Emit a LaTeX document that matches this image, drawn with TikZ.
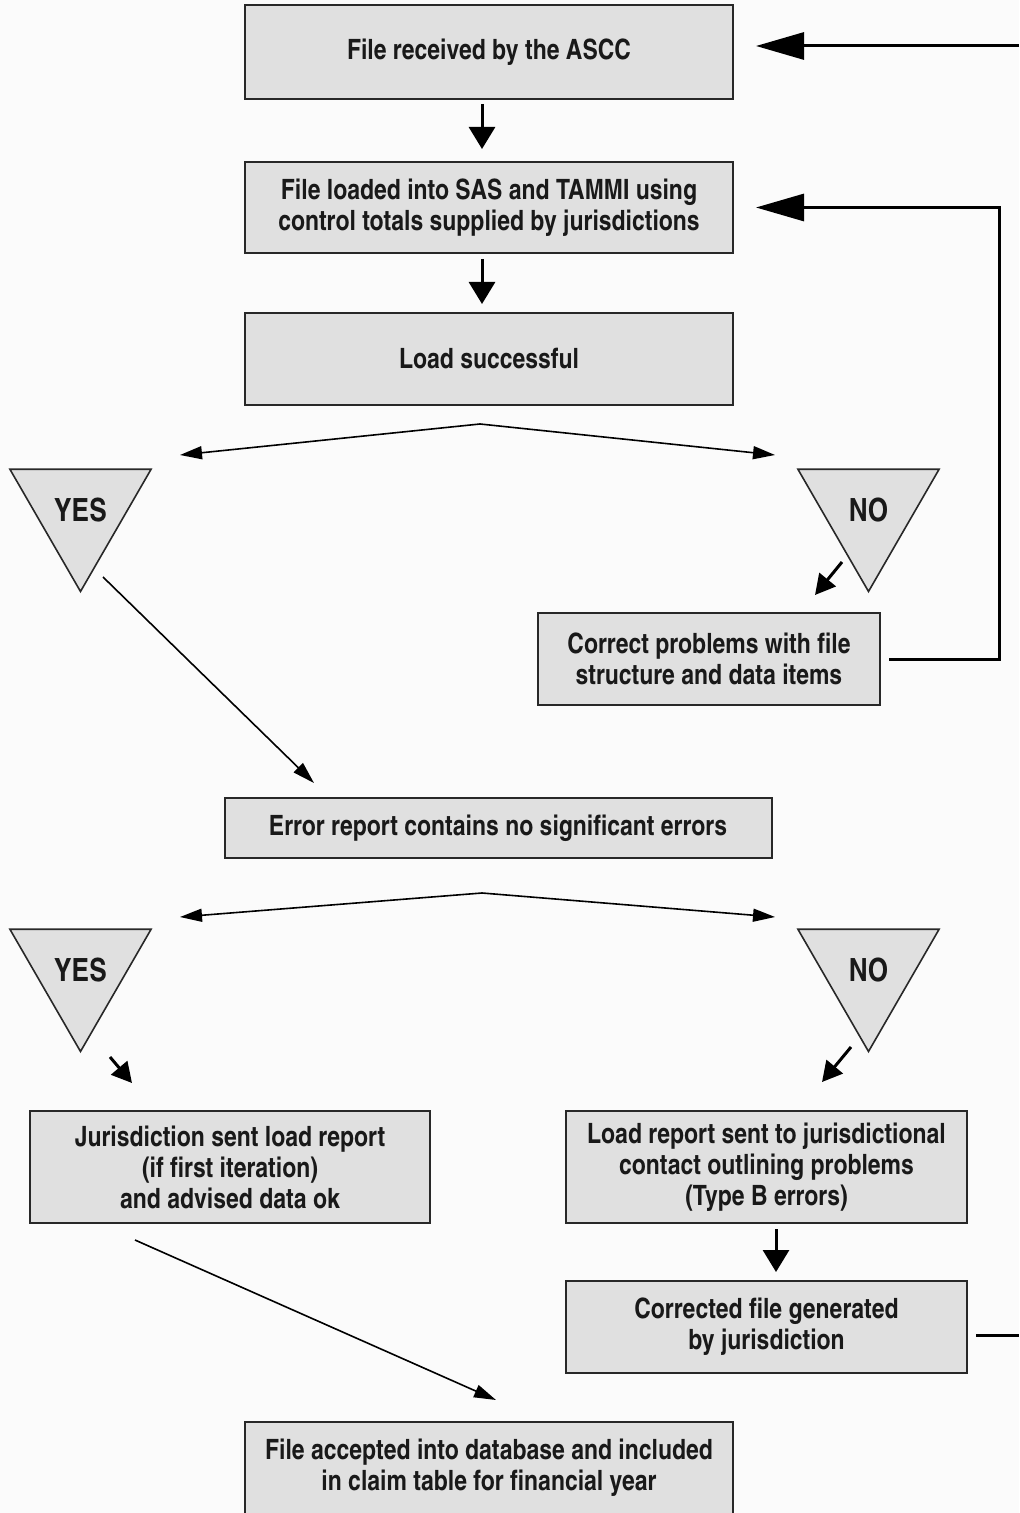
\documentclass[tikz,border=0pt]{standalone}
\usepackage{fontspec}
\setmainfont{Liberation Sans}
\newfontfamily\chartfont{texgyreheroscn-bold.otf}
\usetikzlibrary{arrows.meta, shapes.geometric}
\definecolor{boxgray}{RGB}{224,224,224}
\definecolor{edgec}{RGB}{40,40,40}
\definecolor{paper}{RGB}{251,251,251}

\begin{document}
\begin{tikzpicture}[x=0.5pt, y=-0.5pt,
	stepbox/.style={draw=edgec, line width=1pt, fill=boxgray, align=center, inner sep=0pt, text=black!90, font=\chartfont\fontsize{14}{15.5}\selectfont},
	answer/.style={draw=edgec, line width=0.8pt, fill=boxgray, regular polygon, regular polygon sides=3, shape border rotate=180, minimum size=81.5pt, inner sep=0pt, text=black!90, font=\chartfont\fontsize{16}{18}\selectfont},
	bigarrow/.style={line width=1.5pt, -{Triangle[length=11pt,width=13pt]}},
	longarrow/.style={line width=1.5pt, -{Triangle[length=24pt,width=13.5pt]}},
	thinarrow/.style={line width=0.8pt, -{Triangle[length=11pt,width=6.5pt]}},
	smallarrow/.style={line width=1.5pt, -{Triangle[length=10pt,width=10.5pt]}}]
		\fill[paper] (0,0) rectangle (1019,1513);
		\useasboundingbox (0,0) rectangle (1019,1513);
		
		\node[stepbox, minimum width=244pt, minimum height=47pt] (recv) at (489,52) {File received by the ASCC};
		\node[stepbox, minimum width=244pt, minimum height=45.5pt] (loadin) at (489,207.5) {File loaded into SAS and TAMMI using\\control totals supplied by jurisdictions};
		\node[stepbox, minimum width=244pt, minimum height=46pt] (ok1) at (489,359) {Load successful};
		
		\node[answer] (yes1) at (80.5,510) {YES};
		\node[answer] (no1) at (868.5,510) {NO};
		\node[stepbox, minimum width=171pt, minimum height=46pt] (fix) at (709,659) {Correct problems with file\\structure and data items};
		
		\node[stepbox, minimum width=273.5pt, minimum height=30pt] (err) at (498,828) {Error report contains no significant errors};
		
		\node[answer] (yes2) at (80.5,970) {YES};
		\node[answer] (no2) at (868.5,970) {NO};
		\node[stepbox, minimum width=200pt, minimum height=56pt] (okrep) at (230,1167) {Jurisdiction sent load report\\(if first iteration)\\and advised data ok};
		\node[stepbox, minimum width=200.5pt, minimum height=56pt] (badrep) at (766.5,1167) {Load report sent to jurisdictional\\contact outlining problems\\(Type B errors)};
		\node[stepbox, minimum width=200.5pt, minimum height=46pt] (corr) at (766.5,1327) {Corrected file generated\\by jurisdiction};
		\node[stepbox, minimum width=244pt, minimum height=46pt] (acc) at (489,1468) {File accepted into database and included\\in claim table for financial year};
		
		\coordinate (edge1) at (1019,46);
		\coordinate (loop) at (999,207.5);
		\coordinate (edge2) at (1019,1335);
		\coordinate (split1) at (480,424);
		\coordinate (left1) at (180,455);
		\coordinate (right1) at (775,455);
		\coordinate (split2) at (482,893);
		\coordinate (left2) at (180,917);
		\coordinate (right2) at (775,917);
		\coordinate (ya) at (103,577);
		\coordinate (yb) at (314,783);
		\coordinate (na) at (842,562);
		\coordinate (nb) at (815,595);
		\coordinate (yc) at (110,1057);
		\coordinate (yd) at (132,1083);
		\coordinate (nc) at (851,1047);
		\coordinate (nd) at (822,1082);
		\coordinate (fa) at (135,1240);
		\coordinate (fb) at (496,1400);
		
		\draw[longarrow, shorten >=11pt] (edge1) -- (recv.east |- edge1);
		\draw[longarrow, shorten <=4pt, shorten >=11pt] (fix.east) -| (loop) -- (loadin.east);
		\draw[bigarrow, shorten <=2pt, shorten >=6pt] ([xshift=-3.5pt]recv.south) -- ([xshift=-3.5pt]loadin.north);
		\draw[bigarrow, shorten <=2.5pt, shorten >=4pt] ([xshift=-3.5pt]loadin.south) -- ([xshift=-3.5pt]ok1.north);
		\draw[thinarrow] (split1) -- (left1);
		\draw[thinarrow] (split1) -- (right1);
		\draw[smallarrow] (na) -- (nb);
		\draw[thinarrow] (ya) -- (yb);
		\draw[thinarrow] (split2) -- (left2);
		\draw[thinarrow] (split2) -- (right2);
		\draw[smallarrow] (yc) -- (yd);
		\draw[smallarrow] (nc) -- (nd);
		\draw[bigarrow, shorten <=2.5pt, shorten >=4pt] ([xshift=4.75pt]badrep.south) -- ([xshift=4.75pt]corr.north);
		\draw[line width=1.5pt, shorten <=4pt] ([yshift=-4pt]corr.east) -- (edge2);
		\draw[thinarrow] (fa) -- (fb);
		
\end{tikzpicture}
\end{document}
